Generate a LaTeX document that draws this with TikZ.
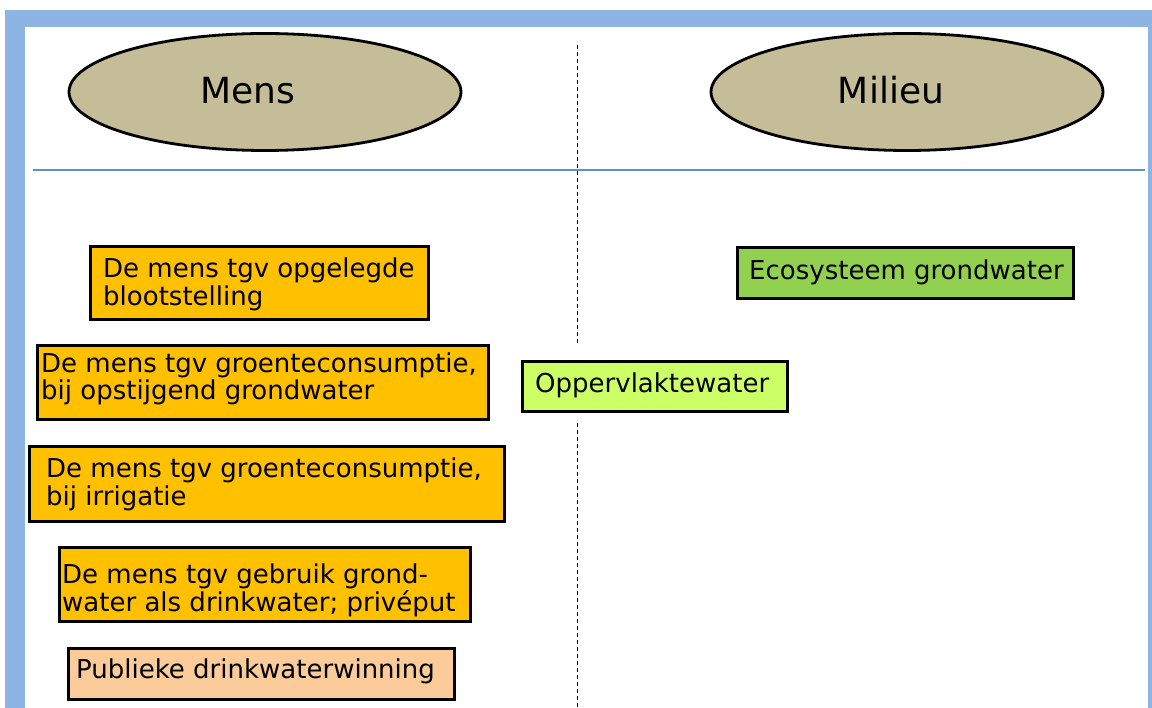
\documentclass[tikz,border=0pt]{standalone}
\usepackage{fontspec}
\setmainfont{DejaVu Sans}
\usetikzlibrary{shapes.geometric}
\definecolor{framebl}{HTML}{8DB4E2}
\definecolor{rulebl}{HTML}{5F8FCF}
\definecolor{khaki}{HTML}{C4BD97}
\definecolor{amber}{HTML}{FFC000}
\definecolor{peach}{HTML}{FBCB9A}
\definecolor{leaf}{HTML}{92D050}
\definecolor{lime}{HTML}{CCFF66}
\begin{document}
\begin{tikzpicture}[x=1pt,y=-1pt,
  header/.style={ellipse, draw=black, line width=2.8pt, fill=khaki,
    minimum width=392pt, minimum height=117pt, inner sep=0pt},
  headtext/.style={anchor=base, font=\fontsize{36}{40}\selectfont, inner sep=0pt},
  stepbox/.style={draw=black, line width=2.6pt, anchor=north west, inner sep=0pt},
  boxline/.style={anchor=base west, inner sep=0pt, font=\fontsize{26}{28}\selectfont},
  divider/.style={black, line width=1pt, dash pattern=on 4pt off 3pt}
]
\useasboundingbox (0,0) rectangle (1152,708);
% page frame
\fill[framebl] (5,10) rectangle (1152,708);
\fill[white] (25,27) rectangle (1148,708);

% column headers
\node[header] (mensE) at (265,92) {};
\node[headtext] (mens) at (248,104) {Mens};
\node[header] (milieuE) at (907,92) {};
\node[headtext] (milieu) at (891,104) {Milieu};

% separators
\coordinate (hl) at (33,170);
\coordinate (hr) at (1145,170);
\draw[rulebl, line width=1.3pt] (hl) -- (hr);
\coordinate (vt) at (577,45);
\coordinate (va) at (577,343);
\coordinate (vb) at (577,423);
\coordinate (vz) at (577,708);
\draw[divider] (vt) -- (va);
\draw[divider] (vb) -- (vz);

% receptors: mens
\node[stepbox, fill=amber, minimum width=338pt, minimum height=73pt] (b1) at (89,245) {};
\node[boxline] (b1a) at (103,278) {De mens tgv opgelegde};
\node[boxline] (b1b) at (103,306) {blootstelling};

\node[stepbox, fill=amber, minimum width=451pt, minimum height=74pt] (b2) at (36,344) {};
\node[boxline] (b2a) at (41,373) {De mens tgv groenteconsumptie,};
\node[boxline] (b2b) at (41,400) {bij opstijgend grondwater};

\node[stepbox, fill=amber, minimum width=475pt, minimum height=75pt] (b3) at (28,445) {};
\node[boxline] (b3a) at (46,478) {De mens tgv groenteconsumptie,};
\node[boxline] (b3b) at (46,506) {bij irrigatie};

\node[stepbox, fill=amber, minimum width=411pt, minimum height=74pt] (b4) at (58,546) {};
\node[boxline] (b4a) at (62,583) {De mens tgv gebruik grond-};
\node[boxline] (b4b) at (62,611) {water als drinkwater; privéput};

\node[stepbox, fill=peach, minimum width=386pt, minimum height=51pt] (b5) at (67,647) {};
\node[boxline] (b5a) at (76,678) {Publieke drinkwaterwinning};

% receptors: milieu
\node[stepbox, fill=leaf, minimum width=336pt, minimum height=51pt] (eco) at (736,246) {};
\node[boxline] (ecoa) at (749,280) {Ecosysteem grondwater};

\node[stepbox, fill=lime, minimum width=265pt, minimum height=50pt] (opp) at (521,360) {};
\node[boxline] (oppa) at (535,393) {Oppervlaktewater};
\end{tikzpicture}
\end{document}
